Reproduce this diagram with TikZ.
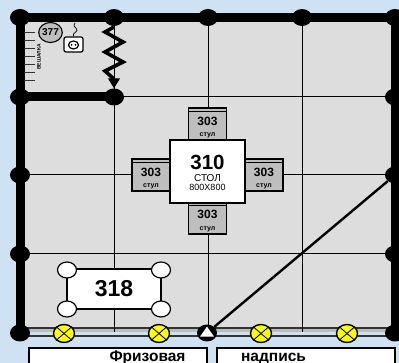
\documentclass[tikz,border=0pt]{standalone}
\usepackage{fontspec}
\setmainfont{Liberation Sans}
\usetikzlibrary{shapes.geometric,arrows.meta}
\definecolor{bgblue}{HTML}{CFE2F3}
\definecolor{roomgrey}{HTML}{DDDDDD}
\definecolor{stoolgrey}{HTML}{BEBEBE}
\definecolor{lampyellow}{HTML}{FFFF00}
\tikzset{
  x=1pt,y=-1pt,
  wall/.style={line width=9pt,line cap=butt},
  gridline/.style={line width=1pt,black},
  post/.style={ellipse,fill=black,draw=none,minimum width=20pt,minimum height=17pt,inner sep=0pt},
  tablebox/.style={draw=black,line width=1.2pt,fill=white,inner sep=0pt},
  stoolbox/.style={draw=black,line width=1.2pt,fill=stoolgrey,inner sep=0pt,minimum width=38pt},
  knob/.style={ellipse,draw=black,line width=1.2pt,fill=white,minimum width=19pt,minimum height=16pt,inner sep=0pt},
  lamp/.style={ellipse,draw=black,line width=1.4pt,fill=lampyellow,minimum width=21pt,minimum height=18pt,inner sep=0pt},
  titlebox/.style={draw=black,line width=1.4pt,fill=white,inner sep=0pt},
  num/.style={font=\fontsize{12}{13}\selectfont\bfseries},
  sub/.style={font=\fontsize{7}{8}\selectfont\bfseries},
  caption/.style={font=\fontsize{15.5}{16}\selectfont\bfseries}
}
\begin{document}
\begin{tikzpicture}
\useasboundingbox (0,0) rectangle (399,363);
\fill[bgblue] (0,0) rectangle (399,363);
\fill[roomgrey] (20,18) rectangle (399,333);
% window
\fill[roomgrey!85!black] (20,329) rectangle (395,332.5);
\fill[bgblue] (20,332.5) rectangle (395,335.5);
\draw[line width=2pt,black!80] (20,328) -- (395,328);
\draw[line width=1.5pt,black!80] (20,336) -- (395,336);
% posts
\node[post] (p00) at (20,17.5) {};
\node[post] (p10) at (114,17.5) {};
\node[post] (p20) at (208,17.5) {};
\node[post] (p30) at (302,17.5) {};
\node[post] (p40) at (395,17.5) {};
\node[post] (p01) at (20,97) {};
\node[post] (p11) at (114,97) {};
\node[post] (p41) at (395,97) {};
\node[post] (p02) at (20,175) {};
\node[post] (p42) at (395,175) {};
\node[post] (p03) at (20,254) {};
\node[post] (p43) at (395,254) {};
\node[post] (p04) at (20,333) {};
\node[post] (p44) at (395,333) {};
\coordinate (b1) at (114,332.5);
\coordinate (b2) at (208,332.5);
\coordinate (b3) at (302,332.5);
% grid
\draw[gridline] (p10) -- (b1);
\draw[gridline] (p20) -- (b2);
\draw[gridline] (p30) -- (b3);
\draw[gridline] (p11) -- (p41);
\draw[gridline] (p02) -- (p42);
\draw[gridline] (p03) -- (p43);
% walls
\draw[wall] (p00.center) -- (p40.center) -- (399,17.5);
\draw[wall] (p00.center) -- (p04.center);
\draw[wall] (p40.center) -- (p44.center);
\draw[wall] (p01.center) -- (p11.center);
% diagonal
\node[ellipse,fill=black,minimum width=20pt,minimum height=17pt,inner sep=0pt] (door) at (207,333) {};
\draw[line width=2.4pt] (door) -- (p42);
\node[isosceles triangle,isosceles triangle apex angle=70,shape border rotate=90,fill=white,inner sep=0pt,minimum height=10pt,minimum width=13pt] (doortri) at (207,333) {};
% zigzag
\coordinate (zs) at (114,27);
\coordinate (ze) at (114,79);
\draw[line width=3.6pt,line join=miter] (zs) -- (105,32) -- (123,42) -- (105,52) -- (123,62) -- (105,71) -- (ze);
\draw[line width=1pt,-{Triangle[length=10pt,width=12pt]}] (ze) -- (p11.north);
% ladder
\foreach \y in {33,41,49,57,65,73,81}
  \draw[line width=1pt,black!80] (24,\y) -- (35,\y);
\node[rotate=90,font=\fontsize{5}{6}\selectfont\bfseries] (veshalka) at (39,57) {ВЕШАЛКА};
\node[ellipse,draw=black,line width=1.1pt,fill=stoolgrey,minimum width=23pt,minimum height=20pt,inner sep=0pt,font=\fontsize{10}{11}\selectfont\bfseries] (n377) at (50.5,32.5) {377};
% socket
\node[draw=black,line width=1.2pt,fill=white,rounded corners=2pt,minimum width=19pt,minimum height=15pt,inner sep=0pt] (socket) at (73.5,44.5) {};
\node[ellipse,draw=black,line width=1.2pt,minimum width=10pt,minimum height=8pt,inner sep=0pt] (socketc) at (73.5,45) {};
\fill (71.5,45) circle (1pt) (75.5,45) circle (1pt);
\draw[line width=0.7pt] (socket.north) .. controls (71,33) and (80,32) .. (76,28) .. controls (73,26) and (74,24) .. (75,23);
% stools and table
\node[stoolbox,minimum height=32pt] (st) at (207.5,124) {};
\draw[line width=1pt] (st.north west)++(0,4) -- ++(38,0);
\node[num] (st1) at (207.5,121) {303};
\node[sub] (st2) at (207.5,135) {стул};
\node[stoolbox,minimum height=32pt] (sl) at (151,175) {};
\draw[line width=1pt] (sl.north west)++(0,4) -- ++(38,0);
\node[num] (sl1) at (151,172) {303};
\node[sub] (sl2) at (151,186) {стул};
\node[stoolbox,minimum height=32pt] (sr) at (264,175) {};
\draw[line width=1pt] (sr.north west)++(0,4) -- ++(38,0);
\node[num] (sr1) at (264,172) {303};
\node[sub] (sr2) at (264,186) {стул};
\node[stoolbox,minimum height=32pt] (sb) at (207.5,218) {};
\draw[line width=1pt] (sb.north west)++(0,4) -- ++(38,0);
\node[num] (sb1) at (207.5,214) {303};
\node[sub] (sb2) at (207.5,229) {стул};
\node[tablebox,minimum width=75pt,minimum height=63pt] (tbl) at (207.5,171.5) {};
\node[font=\fontsize{20.5}{21}\selectfont\bfseries] (t1) at (207.5,162) {310};
\node[font=\fontsize{10}{11}\selectfont] (t2) at (207.5,178.5) {СТОЛ};
\node[font=\fontsize{9}{10}\selectfont] (t3) at (207.5,187.5) {800Х800};
% 318
\node[tablebox,minimum width=94pt,minimum height=40pt,font=\fontsize{23}{24}\selectfont\bfseries] (n318) at (114,289) {318};
\node[knob] (k1) at (67,270) {};
\node[knob] (k2) at (161,270) {};
\node[knob] (k3) at (67,309) {};
\node[knob] (k4) at (161,309) {};
% lamps
\foreach \n/\x in {l1/64,l2/159,l3/261,l4/347}{
  \node[lamp] (\n) at (\x,333.5) {};
  \draw[line width=0.9pt] (\n.north west) -- (\n.south east);
  \draw[line width=0.9pt] (\n.north east) -- (\n.south west);
}
% captions
\node[titlebox,minimum width=178pt,minimum height=20pt] (c1) at (118,358) {};
\node[titlebox,minimum width=178pt,minimum height=20pt] (c2) at (306,358) {};
\node[caption,anchor=base] (c1t) at (147.5,362) {Фризовая};
\node[caption,anchor=base] (c2t) at (273.5,362) {надпись};
\end{tikzpicture}
\end{document}
